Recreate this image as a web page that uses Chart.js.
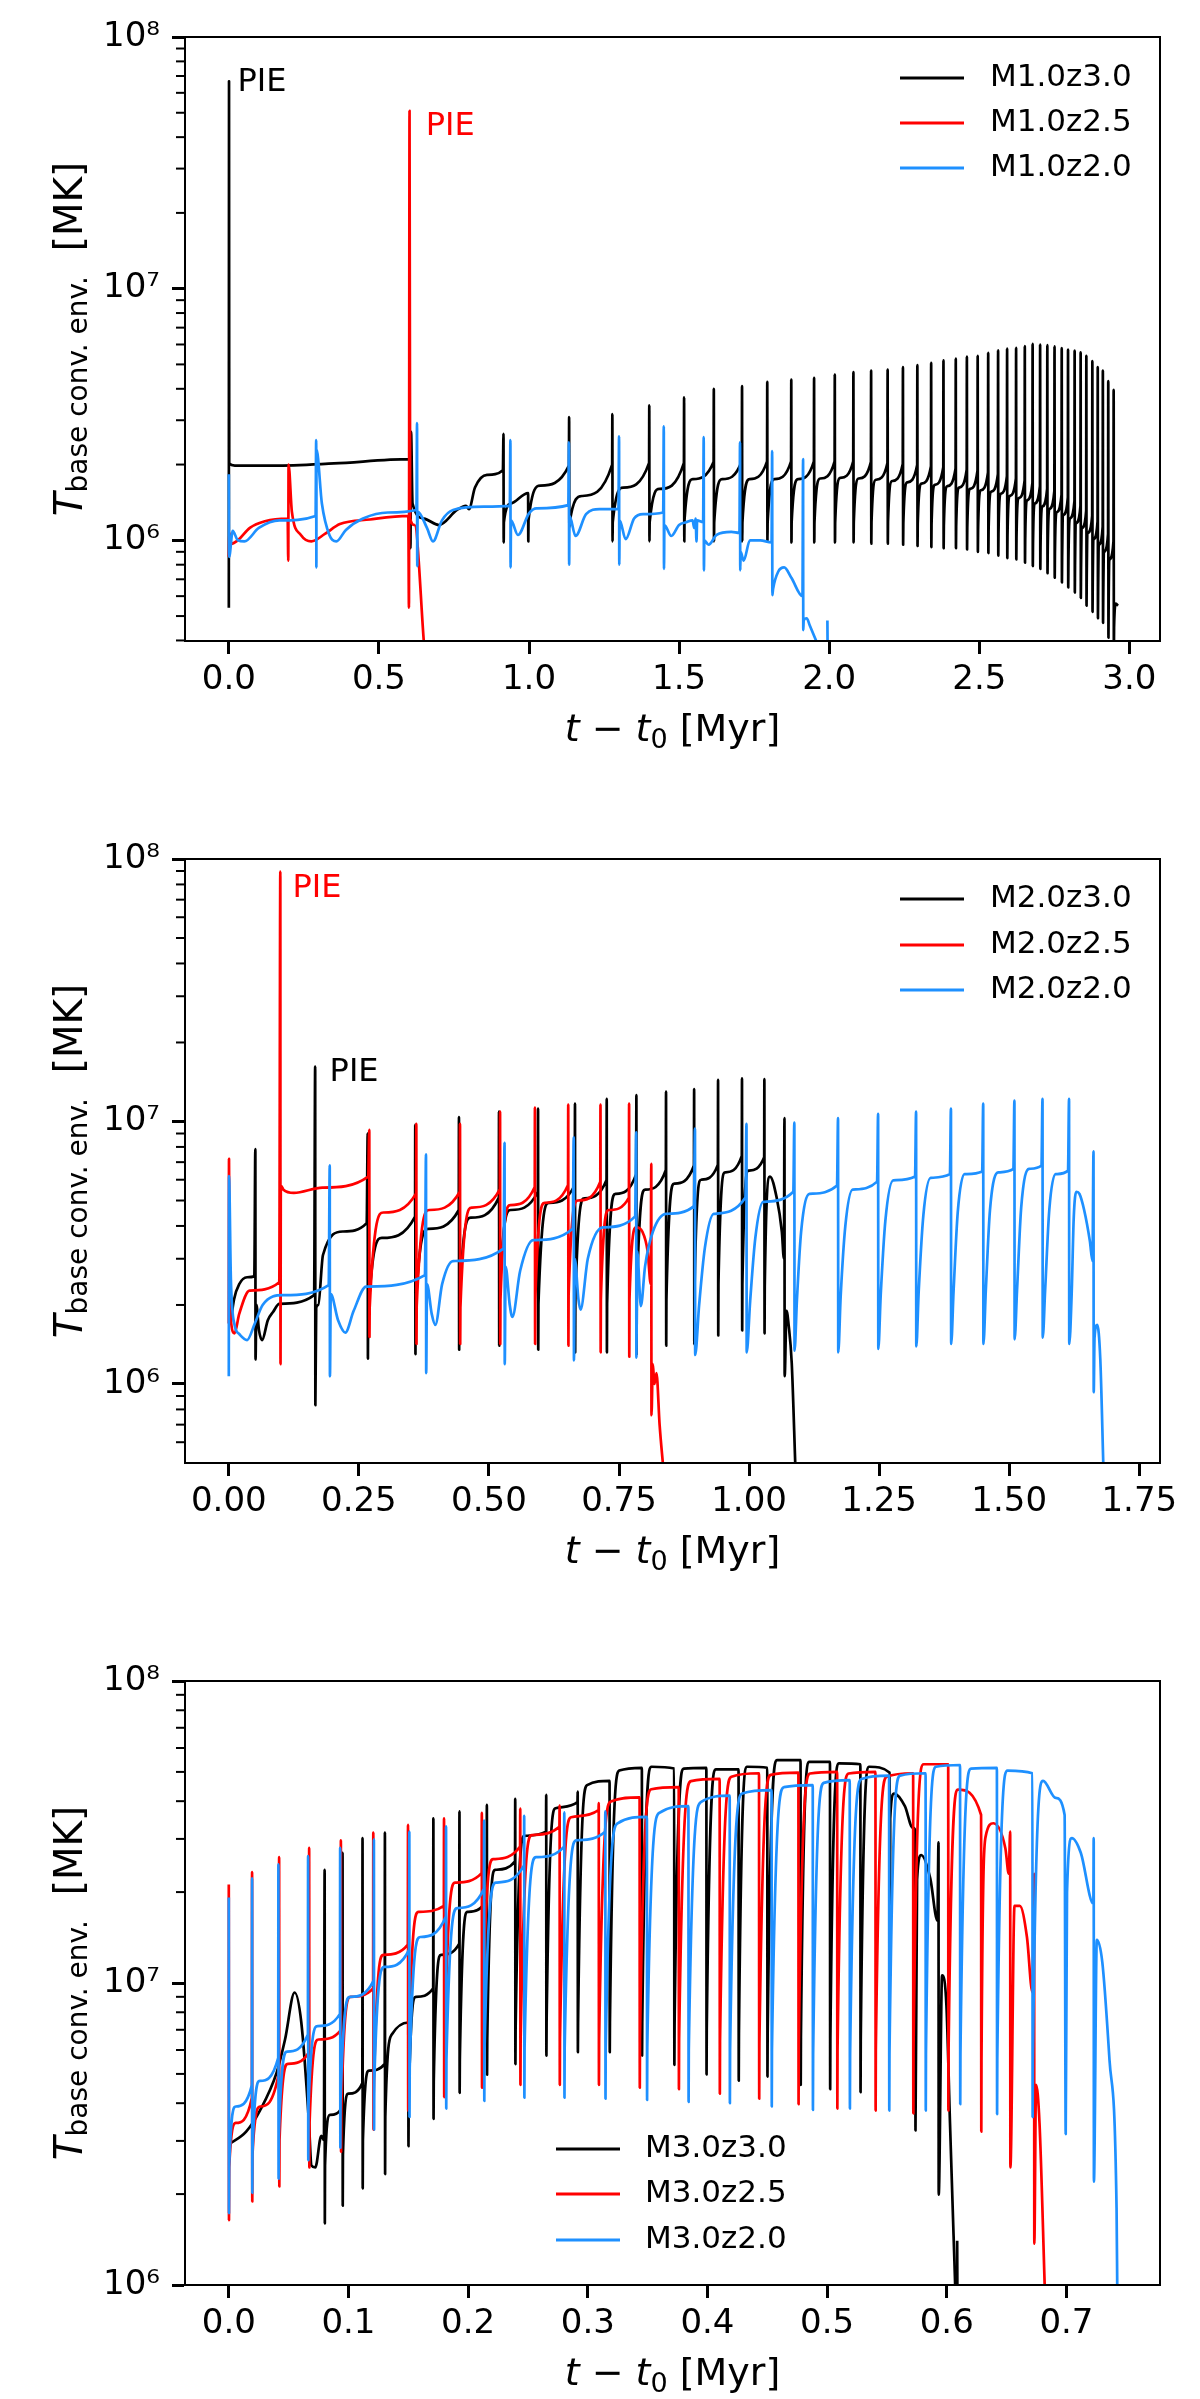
<!DOCTYPE html>
<html>
<head>
<meta charset="utf-8">
<script src="https://cdn.jsdelivr.net/npm/chart.js@4.4.1/dist/chart.umd.min.js"></script>
<style>
  html, body { margin: 0; padding: 0; background: #fff; overflow: hidden; }
  #wrap { position: relative; width: 1200px; height: 2399px; }
  canvas { position: absolute; left: 0; }
</style>
</head>
<body>
<div id="wrap">
  <canvas id="c1" width="1200" height="822" style="top:0px"></canvas>
  <canvas id="c2" width="1200" height="822" style="top:822px"></canvas>
  <canvas id="c3" width="1200" height="755" style="top:1644px"></canvas>
</div>
<script>
// ---- axis ticks and labels ----
const p1XTicks = [0, 0.5, 1.0, 1.5, 2.0, 2.5, 3.0];
const p1XLabels = ['0.0', '0.5', '1.0', '1.5', '2.0', '2.5', '3.0'];
const p2XTicks = [0, 0.25, 0.5, 0.75, 1.0, 1.25, 1.5, 1.75];
const p2XLabels = ['0.00', '0.25', '0.50', '0.75', '1.00', '1.25', '1.50', '1.75'];
const p3XTicks = [0, 0.1, 0.2, 0.3, 0.4, 0.5, 0.6, 0.7];
const p3XLabels = ['0.0', '0.1', '0.2', '0.3', '0.4', '0.5', '0.6', '0.7'];
const yTicks = [1e6, 1e7, 1e8];
const yTickLabels = ['10⁶', '10⁷', '10⁸'];

const p1Labels = ['M1.0z3.0', 'M1.0z2.5', 'M1.0z2.0'];
const p2Labels = ['M2.0z3.0', 'M2.0z2.5', 'M2.0z2.0'];
const p3Labels = ['M3.0z3.0', 'M3.0z2.5', 'M3.0z2.0'];

// ---- data, T in K vs t - t0 in Myr ----
// explicit points are [t, T]; pulse rows are [t, top, bottom, dip, mid, end]:
// spike up to top, down to bottom, curve restarts at dip, passes mid about a
// third of the way to the next pulse and reaches end just before it.

// panel 1, M = 1.0
const p1BlackHead = [[0,5.4e5],[0,6.67e7],[0,2.02e6],[0.02,1.98e6],[0.15,1.98e6],[0.35,2.02e6],[0.603,2.1e6],
  [0.605,9.3e5],[0.607,2.7e6],[0.612,1.4e6],[0.65,1.22e6],[0.70,1.15e6],[0.76,1.32e6],[0.79,1.37e6],[0.80,1.33e6],
  [0.82,1.62e6],[0.86,1.82e6],[0.913,1.9e6]];
const p1BlackRows = [
  [0.915,2.65e6,9.8e5,1.18e6,1.4e6,1.54e6],
  [0.997,null,9.9e5,1.2e6,1.65e6,1.98e6],
  [1.133,3.09e6,1.13e6,1.17e6,1.5e6,2.0e6],
  [1.277,3.17e6,9.9e5,1.18e6,1.62e6,2.03e6],
  [1.400,3.44e6,9.9e5,1.18e6,1.6e6,2.03e6],
  [1.516,3.70e6,9.9e5,1.2e6,1.75e6,2.05e6],
  [1.615,4.0e6,9.9e5,1.18e6,1.75e6,2.07e6],
  [1.709,4.1e6,9.9e5,1.18e6,1.75e6,2.06e6],
  [1.793,4.26e6,9.9e5,1.18e6,1.75e6,2.06e6],
  [1.873,4.35e6,9.8e5,1.18e6,1.75e6,2.06e6],
  [1.949,4.42e6,9.8e5,1.18e6,1.76e6,2.06e6],
  [2.018,4.55e6,9.8e5,1.18e6,1.77e6,2.06e6],
  [2.080,4.66e6,9.8e5,1.18e6,1.76e6,2.05e6],
  [2.139,4.73e6,9.7e5,1.18e6,1.74e6,2.03e6],
  [2.194,4.77e6,9.7e5,1.18e6,1.72e6,2.01e6],
  [2.245,4.88e6,9.6e5,1.17e6,1.7e6,1.99e6],
  [2.293,4.97e6,9.5e5,1.16e6,1.68e6,1.97e6],
  [2.339,5.07e6,9.4e5,1.15e6,1.66e6,1.95e6],
  [2.380,5.19e6,9.3e5,1.14e6,1.64e6,1.93e6],
  [2.421,5.27e6,9.3e5,1.13e6,1.62e6,1.91e6],
  [2.458,5.37e6,9.2e5,1.12e6,1.6e6,1.89e6],
  [2.494,5.41e6,9.0e5,1.1e6,1.58e6,1.86e6],
  [2.529,5.56e6,8.9e5,1.08e6,1.56e6,1.83e6],
  [2.562,5.69e6,8.7e5,1.06e6,1.53e6,1.80e6],
  [2.592,5.78e6,8.5e5,1.04e6,1.5e6,1.76e6],
  [2.622,5.82e6,8.4e5,1.02e6,1.47e6,1.73e6],
  [2.651,5.91e6,8.15e5,1.0e6,1.44e6,1.69e6],
  [2.677,6.03e6,7.9e5,9.7e5,1.4e6,1.64e6],
  [2.702,6.0e6,7.7e5,9.4e5,1.36e6,1.60e6],
  [2.726,5.96e6,7.4e5,9.1e5,1.33e6,1.57e6],
  [2.750,5.9e6,7.1e5,8.8e5,1.29e6,1.52e6],
  [2.774,5.8e6,6.8e5,8.5e5,1.26e6,1.48e6],
  [2.795,5.73e6,6.5e5,8.2e5,1.22e6,1.43e6],
  [2.817,5.67e6,6.2e5,7.9e5,1.17e6,1.37e6],
  [2.837,5.58e6,5.9e5,7.6e5,1.12e6,1.31e6],
  [2.856,5.41e6,5.5e5,7.2e5,1.07e6,1.25e6],
  [2.876,5.15e6,5.2e5,6.8e5,1.01e6,1.19e6],
  [2.894,4.88e6,4.9e5,6.4e5,9.6e5,1.13e6],
  [2.911,4.73e6,4.7e5,6.0e5,9.0e5,1.06e6],
  [2.929,4.29e6,4.1e5,5.6e5,8.4e5,9.9e5],
  [2.947,3.96e6,3.5e5,4.5e5,null,null]
];
const p1BlackTail = [[2.955,5.6e5],[2.962,5.5e5]];

const p1Red = [[0,8.6e5],[0.002,1.07e6],[0.008,9.7e5],[0.03,1.0e6],[0.07,1.12e6],[0.12,1.19e6],[0.196,1.22e6],
  [0.198,8.3e5],[0.199,2.0e6],[0.21,1.3e6],[0.24,1.05e6],[0.275,9.9e5],[0.32,1.06e6],[0.37,1.16e6],[0.47,1.21e6],
  [0.598,1.25e6],[0.6,5.4e5],[0.602,5.09e7],[0.604,1.22e6],[0.619,1.15e6],[0.65,3.9e5]];

const p1Blue = [
  [0,1.83e6],[0.001,8.6e5],[0.013,1.09e6],[0.03,1.0e6],[0.052,9.9e5],[0.1,1.12e6],[0.169,1.2e6],[0.289,1.25e6],
  [0.291,2.5e6],[0.291,7.8e5],[0.292,2.3e6],[0.31,1.4e6],[0.335,1.05e6],[0.358,9.9e5],[0.39,1.1e6],[0.447,1.22e6],[0.53,1.29e6],[0.625,1.32e6],
  [0.627,2.92e6],[0.627,7.9e5],[0.629,1.3e6],[0.66,1.12e6],[0.68,9.9e5],[0.71,1.2e6],[0.747,1.32e6],[0.85,1.36e6],[0.936,1.37e6],
  [0.938,2.5e6],[0.938,7.8e5],[0.94,1.2e6],[0.963,1.05e6],[1.0,1.28e6],[1.025,1.34e6],[1.131,1.38e6],
  [1.133,2.45e6],[1.133,8.0e5],[1.135,1.25e6],[1.155,1.04e6],[1.19,1.27e6],[1.235,1.33e6],[1.298,1.33e6],
  [1.300,2.59e6],[1.300,8.0e5],[1.302,1.2e6],[1.322,1.01e6],[1.35,1.22e6],[1.38,1.27e6],[1.447,1.29e6],
  [1.449,2.84e6],[1.449,7.7e5],[1.451,1.15e6],[1.474,1.04e6],[1.5,1.15e6],[1.524,1.18e6],[1.545,1.2e6],[1.55,1.12e6],
  [1.555,1.22e6],[1.558,9.9e5],[1.56,1.2e6],[1.58,1.18e6],
  [1.582,2.57e6],[1.582,7.6e5],[1.584,1.0e6],[1.598,9.6e5],[1.625,1.05e6],[1.674,1.08e6],[1.701,1.07e6],
  [1.703,2.45e6],[1.703,7.6e5],[1.705,9.0e5],[1.715,8.3e5],[1.736,1.0e6],[1.77,1.0e6],[1.808,9.8e5],
  [1.810,2.26e6],[1.810,6.05e5],[1.813,6.4e5],[1.83,7.5e5],[1.85,7.8e5],[1.874,7.1e5],[1.911,6.0e5],
  [1.913,2.1e6],[1.913,4.4e5],[1.915,4.8e5],[1.925,4.9e5],[1.935,4.6e5],[1.96,3.9e5],
  [1.97,null],[1.994,4.8e5],[1.994,3.8e5]
];

// panel 2, M = 2.0
const p2BlackHead = [[0.003,1.68e6],[0.01,2.1e6],[0.02,2.4e6],[0.035,2.55e6],[0.049,2.57e6],[0.051,7.85e6],
  [0.051,1.24e6],[0.053,2.0e6],[0.058,1.6e6],[0.064,1.47e6],[0.075,1.75e6],[0.085,1.88e6],[0.097,2.02e6],
  [0.164,2.18e6],[0.166,1.62e7],[0.166,8.3e5],[0.168,1.95e6],[0.172,2.0e6],[0.181,3.1e6],[0.219,3.81e6],[0.265,4.1e6]];
const p2BlackRows = [
  [0.267,9.0e6,1.25e6,1.81e6,3.6e6,4.34e6],
  [0.358,9.7e6,1.30e6,1.95e6,3.9e6,4.6e6],
  [0.442,1.04e7,1.35e6,1.98e6,4.3e6,5.13e6],
  [0.519,1.09e7,1.40e6,2.05e6,4.6e6,5.4e6],
  [0.594,1.12e7,1.35e6,2.02e6,4.9e6,5.73e6],
  [0.665,1.17e7,1.32e6,2.1e6,5.1e6,5.99e6],
  [0.726,1.22e7,1.32e6,2.02e6,5.3e6,6.3e6],
  [0.783,1.26e7,1.30e6,2.1e6,5.5e6,6.53e6],
  [0.840,1.30e7,1.40e6,2.1e6,5.8e6,6.8e6],
  [0.894,1.33e7,1.42e6,2.3e6,6.0e6,6.85e6],
  [0.940,1.44e7,1.53e6,2.4e6,6.4e6,7.4e6],
  [0.986,1.46e7,1.60e6,2.4e6,6.5e6,7.3e6],
  [1.029,1.45e7,1.56e6,2.35e6,null,null]
];
const p2BlackTail = [[1.040,6.17e6],[1.053,5.13e6],[1.063,3.8e6],[1.067,3.0e6],[1.068,1.03e7],[1.068,1.07e6],
  [1.072,1.9e6],[1.076,1.68e6],[1.082,1.2e6],[1.089,4.8e5]];

const p2RedHead = [[0,1.7e6],[0,7.2e6],[0.002,2.0e6],[0.011,1.56e6],[0.02,1.85e6],[0.04,2.27e6],[0.097,2.44e6],
  [0.099,8.95e7],[0.099,1.19e6],[0.1,5.7e6],[0.105,5.5e6],[0.125,5.35e6],[0.18,5.6e6],[0.268,6.17e6]];
const p2RedRows = [
  [0.270,9.3e6,1.51e6,1.95e6,4.5e6,5.32e6],
  [0.360,9.8e6,1.42e6,1.98e6,4.6e6,5.4e6],
  [0.444,9.8e6,1.42e6,1.95e6,4.7e6,5.52e6],
  [0.521,1.09e7,1.42e6,2.1e6,4.8e6,5.63e6],
  [0.588,1.13e7,1.42e6,2.1e6,4.9e6,5.73e6],
  [0.652,1.16e7,1.40e6,2.18e6,5.0e6,5.9e6],
  [0.714,1.16e7,1.32e6,2.1e6,4.6e6,5.13e6],
  [0.769,1.17e7,1.27e6,2.1e6,null,null]
];
const p2RedTail = [[0.783,3.95e6],[0.795,3.8e6],[0.805,3.2e6],[0.811,2.4e6],[0.812,6.9e6],[0.812,7.6e5],
  [0.815,1.19e6],[0.818,1.0e6],[0.822,1.1e6],[0.828,7.0e5],[0.835,4.8e5]];

const p2Blue = [
  [0,1.07e6],[0,6.2e6],[0.004,2.5e6],[0.011,1.68e6],[0.02,1.55e6],[0.035,1.47e6],[0.05,1.7e6],[0.065,2.0e6],[0.104,2.18e6],[0.192,2.38e6],
  [0.194,6.8e6],[0.194,1.07e6],[0.196,2.2e6],[0.21,1.75e6],[0.224,1.57e6],[0.24,1.9e6],[0.264,2.35e6],[0.377,2.6e6],
  [0.379,7.5e6],[0.379,1.1e6],[0.381,2.4e6],[0.39,1.85e6],[0.397,1.68e6],[0.41,2.4e6],[0.431,2.94e6],[0.528,3.28e6],
  [0.530,8.3e6],[0.530,1.19e6],[0.532,2.8e6],[0.54,2.0e6],[0.545,1.8e6],[0.56,2.7e6],[0.585,3.53e6],[0.661,3.9e6],
  [0.663,8.7e6],[0.663,1.23e6],[0.665,3.0e6],[0.672,2.1e6],[0.676,1.92e6],[0.69,3.0e6],[0.719,3.95e6],[0.781,4.35e6],
  [0.783,9.1e6],[0.783,1.26e6],[0.785,3.2e6],[0.792,1.98e6],[0.80,2.8e6],[0.815,3.8e6],[0.841,4.45e6],[0.894,4.76e6],
  [0.896,9.4e6],[0.896,1.29e6],[0.904,2.0e6],[0.915,3.3e6],[0.932,4.45e6],[0.993,5.13e6],
  [0.995,9.8e6],[0.995,1.32e6],[1.002,2.06e6],[1.012,3.6e6],[1.027,4.94e6],[1.085,5.4e6],
  [1.087,9.9e6],[1.087,1.34e6],[1.092,2.1e6],[1.10,3.8e6],[1.116,5.3e6],[1.169,5.7e6],
  [1.171,1.03e7],[1.171,1.32e6],[1.176,2.15e6],[1.185,4.0e6],[1.199,5.5e6],[1.246,5.9e6],
  [1.248,1.07e7],[1.248,1.36e6],[1.253,2.18e6],[1.262,4.2e6],[1.277,5.97e6],[1.319,6.17e6],
  [1.321,1.09e7],[1.321,1.39e6],[1.326,2.25e6],[1.335,4.4e6],[1.349,6.1e6],[1.386,6.3e6],
  [1.388,1.12e7],[1.388,1.42e6],[1.393,2.25e6],[1.401,4.5e6],[1.414,6.3e6],[1.448,6.45e6],
  [1.450,1.17e7],[1.450,1.42e6],[1.455,2.27e6],[1.463,4.6e6],[1.479,6.4e6],[1.508,6.6e6],
  [1.510,1.2e7],[1.510,1.48e6],[1.515,2.27e6],[1.523,4.7e6],[1.538,6.6e6],[1.562,6.8e6],
  [1.564,1.22e7],[1.564,1.5e6],[1.569,2.27e6],[1.577,4.6e6],[1.589,6.3e6],[1.613,6.5e6],
  [1.615,1.22e7],[1.615,1.42e6],[1.62,2.2e6],[1.624,4.3e6],[1.629,5.4e6],[1.635,5.3e6],[1.644,4.6e6],[1.655,3.5e6],[1.660,2.94e6],
  [1.662,7.7e6],[1.662,9.3e5],[1.664,1.5e6],[1.669,1.68e6],[1.675,1.25e6],[1.681,4.8e5]
];

// panel 3, M = 3.0
const p3BlackHead = [[0,2.92e6],[0.0145,3.22e6],[0.026,3.78e6],[0.040,5.05e6],[0.047,6.5e6],[0.055,9.3e6],
  [0.0606,7.4e6],[0.067,3.44e6],[0.069,2.49e6],[0.0723,2.45e6],[0.0773,3.12e6],[0.0795,3.02e6]];
const p3BlackRows = [
  [0.0801,2.37e7,1.6e6,2.49e6,3.66e6,3.9e6],
  [0.0949,2.7e7,1.83e6,2.7e6,4.3e6,4.66e6],
  [0.1116,3.02e7,2.09e6,3.02e6,5.13e6,5.4e6],
  [0.1303,3.15e7,2.33e6,3.6e6,6.75e6,7.4e6],
  [0.150,null,2.88e6,4.04e6,9.0e6,9.6e6],
  [0.1708,3.51e7,3.55e6,4.73e6,1.24e7,1.35e7],
  [0.1926,3.7e7,4.33e6,5.56e6,1.72e7,1.89e7],
  [0.2155,3.89e7,4.97e6,6.5e6,2.37e7,2.53e7],
  [0.2392,4.07e7,5.39e6,6.97e6,3.07e7,3.17e7],
  [0.2651,4.2e7,5.75e6,7.4e6,3.79e7,3.97e7],
  [0.2914,4.3e7,5.9e6,7.4e6,4.52e7,4.67e7],
  [0.3182,null,5.9e6,7.4e6,5.05e7,5.16e7],
  [0.3452,null,5.75e6,7.4e6,5.2e7,5.13e7],
  [0.3722,null,5.36e6,7.2e6,5.13e7,5.16e7],
  [0.3991,null,4.98e6,7.0e6,5.1e7,5.1e7],
  [0.426,null,4.75e6,6.8e6,5.2e7,5.16e7],
  [0.450,null,4.9e6,6.8e6,5.47e7,5.47e7],
  [0.4778,null,4.6e6,6.6e6,5.4e7,5.4e7],
  [0.5024,null,4.45e6,6.5e6,5.34e7,5.3e7],
  [0.5278,null,4.35e6,6.4e6,5.2e7,4.97e7],
  [0.5524,null,1.06e7,3.5e7,null,null]
];
const p3BlackTail = [[0.556,4.24e7],[0.565,3.85e7],[0.5715,3.27e7],[0.5737,3.2e7],[0.5737,3.25e6],[0.5752,2.2e7],
  [0.5787,2.65e7],[0.5862,2.22e7],[0.5922,1.61e7],[0.5931,2.92e7],[0.5931,1.99e6],[0.5961,1.06e7],[0.5997,8.46e6],
  [0.6027,3.44e6],[0.6072,9.5e5],[0.6075,null],[0.6087,1.4e6],[0.6087,9.5e5]];

const p3RedRows = [
  [0.000,2.12e7,1.64e6,2.45e6,3.44e6,4.17e6],
  [0.0193,2.33e7,1.89e6,2.7e6,3.9e6,5.05e6],
  [0.0419,2.61e7,2.12e6,3.02e6,5.4e6,5.9e6],
  [0.067,2.8e7,2.45e6,3.44e6,6.5e6,6.97e6],
  [0.0935,2.97e7,2.76e6,3.78e6,9.0e6,9.6e6],
  [0.1206,3.15e7,3.27e6,4.3e6,1.24e7,1.34e7],
  [0.1496,3.34e7,3.78e6,5.05e6,1.72e7,1.8e7],
  [0.1797,3.51e7,4.19e6,5.56e6,2.15e7,2.31e7],
  [0.2113,3.66e7,4.5e6,6.1e6,2.57e7,2.83e7],
  [0.2434,3.78e7,4.6e6,6.5e6,3.09e7,3.29e7],
  [0.2763,3.87e7,4.6e6,6.5e6,3.54e7,3.74e7],
  [0.309,3.94e7,4.6e6,6.5e6,3.99e7,4.12e7],
  [0.3433,null,4.5e6,6.5e6,4.38e7,4.45e7],
  [0.376,null,4.45e6,6.5e6,4.66e7,4.74e7],
  [0.4102,null,4.3e6,6.4e6,4.82e7,4.95e7],
  [0.4431,null,4.14e6,6.3e6,4.89e7,4.97e7],
  [0.476,null,3.97e6,6.2e6,4.94e7,5.0e7],
  [0.5084,null,3.84e6,6.0e6,4.94e7,5.0e7],
  [0.5404,null,3.78e6,6.0e6,4.82e7,4.95e7],
  [0.5719,null,3.7e6,6.0e6,5.3e7,5.3e7],
  [0.6012,null,3.78e6,6.0e6,4.37e7,3.6e7],
  [0.6287,null,3.22e6,5.5e6,null,null]
];
const p3RedTail = [[0.6326,3.07e7],[0.639,3.38e7],[0.649,2.79e7],[0.6518,2.3e7],[0.653,3.17e7],[0.653,2.45e6],
  [0.6566,1.8e7],[0.661,1.8e7],[0.667,1.42e7],[0.6716,9.3e6],[0.673,2.3e7],[0.673,1.37e6],[0.6746,4.6e6],
  [0.6775,3.44e6],[0.682,9.5e5]];

const p3BlueRows = [
  [0.000,1.92e7,1.73e6,2.49e6,3.9e6,4.59e6],
  [0.0193,2.22e7,2.02e6,2.74e6,4.74e6,5.65e6],
  [0.0413,2.47e7,2.25e6,3.12e6,5.93e6,6.75e6],
  [0.0661,2.63e7,2.59e6,3.9e6,7.2e6,7.9e6],
  [0.0929,2.8e7,2.85e6,4.1e6,9.0e6,1.02e7],
  [0.1211,2.99e7,3.27e6,4.74e6,1.13e7,1.29e7],
  [0.1507,3.17e7,3.6e6,5.22e6,1.42e7,1.66e7],
  [0.1814,3.3e7,3.84e6,5.56e6,1.77e7,2.05e7],
  [0.2132,3.45e7,4.07e6,5.93e6,2.15e7,2.45e7],
  [0.2467,3.58e7,4.17e6,6.1e6,2.61e7,2.83e7],
  [0.2802,3.67e7,4.17e6,6.1e6,2.97e7,3.17e7],
  [0.3145,3.7e7,4.14e6,6.1e6,3.38e7,3.55e7],
  [0.3494,null,4.1e6,6.1e6,3.66e7,3.85e7],
  [0.3841,null,4.04e6,6.0e6,3.97e7,4.17e7],
  [0.4186,null,4.0e6,6.0e6,4.24e7,4.35e7],
  [0.4536,null,3.9e6,6.0e6,4.45e7,4.52e7],
  [0.488,null,3.8e6,5.8e6,4.6e7,4.7e7],
  [0.5189,null,3.84e6,5.8e6,4.74e7,4.86e7],
  [0.5518,null,3.78e6,5.8e6,4.86e7,4.95e7],
  [0.5823,null,3.78e6,5.8e6,5.2e7,5.27e7],
  [0.6111,null,3.97e6,5.8e6,5.13e7,5.16e7],
  [0.6419,null,3.68e6,5.6e6,5.05e7,4.95e7],
  [0.6716,null,3.6e6,5.5e6,null,null]
];
const p3BlueTail = [[0.6805,4.67e7],[0.691,4.1e7],[0.6985,3.6e7],[0.6994,3.16e6],[0.7005,2.0e7],[0.7045,3.02e7],
  [0.712,2.7e7],[0.7225,1.83e7],[0.7228,3.02e7],[0.7228,2.2e6],[0.7254,1.39e7],[0.73,1.17e7],[0.736,5.56e6],
  [0.7419,1.8e6],[0.7425,9.5e5]];

// ---- building the point lists ----
function fromRows(head, rows, tail) {
  const pts = head.slice();
  rows.forEach((r, i) => {
    const [t, top, bot, dip, mid, end] = r;
    if (top !== null) pts.push([t, top]);
    pts.push([t, bot], [t, dip]);
    const next = i + 1 < rows.length ? rows[i + 1][0] : null;
    if (mid !== null && next !== null) {
      pts.push([t + (next - t) * 0.3, mid], [next, end]);
    }
  });
  return pts.concat(tail);
}

// monotone splines need strictly increasing x, so vertical strokes get a hair of width
function toXY(list, eps) {
  let last = -Infinity;
  return list.map(([x, y]) => {
    if (x <= last) x = last + eps;
    last = x;
    return { x, y };
  });
}

const BLACK = '#000000', RED = '#ff0000', BLUE = '#1e90ff';
const FONT = 'DejaVu Sans';

const panels = [
  {
    id: 'c1', xMin: -0.146, xMax: 3.102, yMin: 3.98e5, yMax: 1e8,
    xTicks: p1XTicks, xLabels: p1XLabels, names: p1Labels,
    series: [fromRows(p1BlackHead, p1BlackRows, p1BlackTail), p1Red, p1Blue],
    legend: { x0: 900, x1: 964, xt: 990, rows: [41, 86, 131] },
    pies: [{ t: 0.029, T: 6.6e7, color: BLACK }, { t: 0.656, T: 4.4e7, color: RED }]
  },
  {
    id: 'c2', xMin: -0.0842, xMax: 1.7898, yMin: 5e5, yMax: 1e8,
    xTicks: p2XTicks, xLabels: p2XLabels, names: p2Labels,
    series: [fromRows(p2BlackHead, p2BlackRows, p2BlackTail), fromRows(p2RedHead, p2RedRows, p2RedTail), p2Blue],
    legend: { x0: 900, x1: 964, xt: 990, rows: [40, 86, 131] },
    pies: [{ t: 0.1225, T: 7.68e7, color: RED }, { t: 0.1937, T: 1.54e7, color: BLACK }]
  },
  {
    id: 'c3', xMin: -0.0366, xMax: 0.7782, yMin: 1e6, yMax: 1e8,
    xTicks: p3XTicks, xLabels: p3XLabels, names: p3Labels,
    series: [fromRows(p3BlackHead, p3BlackRows, p3BlackTail), fromRows([], p3RedRows, p3RedTail), fromRows([], p3BlueRows, p3BlueTail)],
    legend: { x0: 556, x1: 620, xt: 645, rows: [468, 513, 559] },
    pies: []
  }
];

function minorTicks(lo, hi) {
  const out = [];
  for (let e = 5; e < 8; e++) {
    for (let m = 2; m < 10; m++) {
      const v = m * Math.pow(10, e);
      if (v > lo && v < hi) out.push(v);
    }
  }
  return out;
}

// draw a run of text pieces with their own fonts, centred on x
function drawRuns(ctx, runs, x, y) {
  let w = 0;
  runs.forEach(r => { ctx.font = r.font; w += ctx.measureText(r.text).width; });
  let cx = x - w / 2;
  runs.forEach(r => {
    ctx.font = r.font;
    ctx.fillText(r.text, cx, y + (r.dy || 0));
    cx += ctx.measureText(r.text).width;
  });
}

const decorations = {
  id: 'decorations',
  afterDatasetsDraw(chart, args, opts) {
    const { ctx, chartArea: a } = chart;
    const ys = chart.scales.y, xs = chart.scales.x;
    ctx.save();
    ctx.strokeStyle = '#000';
    ctx.lineWidth = 2;
    ctx.strokeRect(a.left, a.top, a.right - a.left, a.bottom - a.top);

    // minor ticks on the log axis
    ctx.lineWidth = 2;
    minorTicks(opts.yMin, opts.yMax).forEach(v => {
      const py = ys.getPixelForValue(v);
      ctx.beginPath();
      ctx.moveTo(a.left - 9, py);
      ctx.lineTo(a.left, py);
      ctx.stroke();
    });

    ctx.fillStyle = '#000';
    ctx.textBaseline = 'alphabetic';
    ctx.textAlign = 'left';
    // x title
    drawRuns(ctx, [
      { text: 't', font: `italic 38px ${FONT}` },
      { text: ' − ', font: `38px ${FONT}` },
      { text: 't', font: `italic 38px ${FONT}` },
      { text: '0', font: `27px ${FONT}`, dy: 7 },
      { text: ' [Myr]', font: `38px ${FONT}` }
    ], (a.left + a.right) / 2, a.bottom + 100);

    // y title, rotated
    ctx.save();
    ctx.translate(82, (a.top + a.bottom) / 2);
    ctx.rotate(-Math.PI / 2);
    drawRuns(ctx, [
      { text: 'T', font: `italic 39px ${FONT}` },
      { text: 'base conv. env.', font: `28px ${FONT}`, dy: 5 },
      { text: '  [MK]', font: `39px ${FONT}` }
    ], 0, 0);
    ctx.restore();

    // legend
    const lg = opts.legend;
    ctx.font = `31px ${FONT}`;
    ctx.textBaseline = 'middle';
    chart.data.datasets.forEach((ds, i) => {
      const ry = a.top + lg.rows[i];
      ctx.strokeStyle = ds.borderColor;
      ctx.lineWidth = 2.8;
      ctx.beginPath();
      ctx.moveTo(lg.x0, ry);
      ctx.lineTo(lg.x1, ry);
      ctx.stroke();
      ctx.fillStyle = '#000';
      ctx.fillText(ds.label, lg.xt, ry);
    });

    // PIE annotations
    ctx.font = `32px ${FONT}`;
    opts.pies.forEach(p => {
      ctx.fillStyle = p.color;
      ctx.fillText('PIE', xs.getPixelForValue(p.t), ys.getPixelForValue(p.T));
    });
    ctx.restore();
  }
};

panels.forEach(p => {
  const canvas = document.getElementById(p.id);
  const H = canvas.height;
  const xRange = p.xMax - p.xMin;
  const colors = [BLACK, RED, BLUE];
  new Chart(canvas, {
    type: 'line',
    data: {
      datasets: p.series.map((s, i) => ({
        label: p.names[i],
        data: toXY(s, xRange / 5000),
        borderColor: colors[i],
        borderWidth: 2.7,
        pointRadius: 0,
        cubicInterpolationMode: 'monotone',
        spanGaps: false,
        order: 2 - i
      }))
    },
    options: {
      responsive: false,
      animation: false,
      devicePixelRatio: 1,
      layout: { padding: { top: 37, right: 40, left: 0, bottom: 0 } },
      elements: { line: { capBezierPoints: false, borderJoinStyle: 'round' } },
      plugins: {
        legend: { display: false },
        tooltip: { enabled: false },
        decorations: { yMin: p.yMin, yMax: p.yMax, legend: p.legend, pies: p.pies }
      },
      scales: {
        x: {
          type: 'linear', min: p.xMin, max: p.xMax,
          afterBuildTicks: s => { s.ticks = p.xTicks.map(v => ({ value: v })); },
          afterFit: s => { s.height = H - 37 - 604; },
          grid: { drawOnChartArea: false, drawTicks: true, tickLength: 13, tickWidth: 3, tickColor: '#000' },
          border: { display: true, color: '#000', width: 2 },
          ticks: {
            autoSkip: false, maxRotation: 0, padding: 6, color: '#000',
            font: { family: FONT, size: 34 },
            callback: (v, i) => p.xLabels[i]
          }
        },
        y: {
          type: 'logarithmic', min: p.yMin, max: p.yMax,
          afterBuildTicks: s => { s.ticks = yTicks.filter(v => v >= p.yMin && v <= p.yMax).map(v => ({ value: v, major: true })); },
          afterFit: s => { s.width = 185; },
          grid: { drawOnChartArea: false, drawTicks: true, tickLength: 13, tickWidth: 3, tickColor: '#000' },
          border: { display: true, color: '#000', width: 2 },
          ticks: {
            autoSkip: false, padding: 12, color: '#000',
            font: { family: FONT, size: 34 },
            callback: v => yTickLabels[yTicks.indexOf(v)]
          }
        }
      }
    },
    plugins: [decorations]
  });
});
</script>
</body>
</html>
